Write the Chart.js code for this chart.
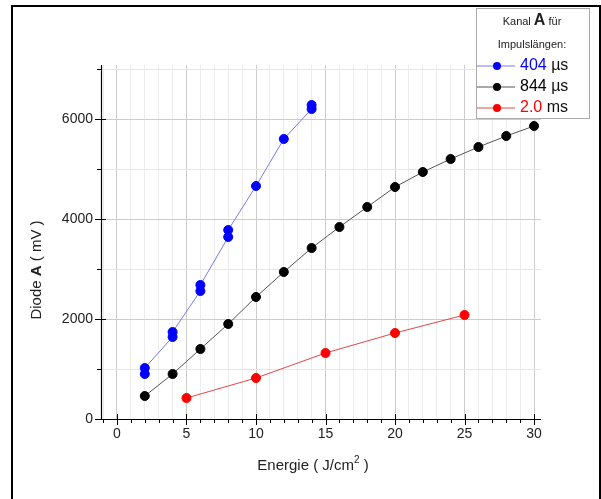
<!DOCTYPE html>
<html><head><meta charset="utf-8">
<script src="https://cdn.jsdelivr.net/npm/chart.js@4"></script>
<style>html,body{margin:0;padding:0;background:#fff;}#wrap{width:601px;height:499px;position:relative;}</style>
</head><body><div id="wrap"><canvas id="c" width="601" height="499"></canvas></div>
<script>
// ---- data ----
const seriesLabels = ["404 µs", "844 µs", "2.0 ms"];
const energy404 = [2, 2, 4, 4, 6, 6, 8, 8, 10, 12, 14, 14];
const diode404  = [900, 1020, 1640, 1740, 2560, 2680, 3640, 3780, 4660, 5600, 6200, 6280];
const energy844 = [2, 4, 6, 8, 10, 12, 14, 16, 18, 20, 22, 24, 26, 28, 30];
const diode844  = [460, 900, 1400, 1900, 2440, 2940, 3420, 3840, 4240, 4640, 4940, 5200, 5440, 5660, 5860];
const energy2ms = [5, 10, 15, 20, 25];
const diode2ms  = [420, 820, 1320, 1720, 2080];
const xTickValues = [-1,0,1,2,3,4,5,6,7,8,9,10,11,12,13,14,15,16,17,18,19,20,21,22,23,24,25,26,27,28,29,30];
const yTickValues = [0,1000,2000,3000,4000,5000,6000,7000];
const xLabelEvery = 5;
const yLabelEvery = 2000;

const FONT = "'Liberation Sans', Arial, sans-serif";
const pts = (xs, ys) => xs.map((x, i) => ({x: x, y: ys[i]}));

const decor = {
  id: 'decor',
  beforeDraw(chart) {
    const ctx = chart.ctx;
    ctx.save();
    ctx.fillStyle = '#fff';
    ctx.fillRect(0, 0, chart.width, chart.height);
    ctx.restore();
  },
  afterDraw(chart) {
    const ctx = chart.ctx;
    const xs = chart.scales.x, ys = chart.scales.y;
    const ca = chart.chartArea;
    ctx.save();
    // axis lines
    ctx.strokeStyle = '#000'; ctx.lineWidth = 1.2;
    ctx.beginPath();
    ctx.moveTo(ca.left + 0.5, ca.top); ctx.lineTo(ca.left + 0.5, ca.bottom + 0.5);
    ctx.lineTo(ca.right, ca.bottom + 0.5);
    ctx.stroke();
    // tick marks
    ctx.lineWidth = 1;
    xs.ticks.forEach(t => {
      const px = Math.round(xs.getPixelForValue(t.value)) + 0.5;
      const major = t.value % xLabelEvery === 0;
      ctx.beginPath();
      ctx.moveTo(px, ca.bottom + (major ? -5 : 0));
      ctx.lineTo(px, ca.bottom + (major ? 6 : 4));
      ctx.stroke();
    });
    ys.ticks.forEach(t => {
      const py = Math.round(ys.getPixelForValue(t.value)) + 0.5;
      const major = t.value % yLabelEvery === 0;
      ctx.beginPath();
      ctx.moveTo(ca.left + (major ? 5 : 0), py);
      ctx.lineTo(ca.left - (major ? 6 : 4), py);
      ctx.stroke();
    });
    // Y axis title
    ctx.fillStyle = '#222';
    ctx.textBaseline = 'middle';
    const yParts = [["Diode ", "15px " + FONT], ["A", "bold 15px " + FONT], [" ( mV )", "15px " + FONT]];
    let tw = 0;
    yParts.forEach(p => { ctx.font = p[1]; tw += ctx.measureText(p[0]).width; });
    ctx.translate(37, (ca.top + ca.bottom) / 2 + 28);
    ctx.rotate(-Math.PI / 2);
    let cx = -tw / 2;
    ctx.textAlign = 'left';
    yParts.forEach(p => { ctx.font = p[1]; ctx.fillText(p[0], cx, 0); cx += ctx.measureText(p[0]).width; });
    ctx.setTransform(1, 0, 0, 1, 0, 0);
    // X axis title
    const xParts = [["Energie ( J/cm", "15px " + FONT, 0], ["2", "10px " + FONT, -6], [" )", "15px " + FONT, 0]];
    tw = 0;
    xParts.forEach(p => { ctx.font = p[1]; tw += ctx.measureText(p[0]).width; });
    cx = 313 - tw / 2;
    xParts.forEach(p => { ctx.font = p[1]; ctx.fillText(p[0], cx, 466 + p[2]); cx += ctx.measureText(p[0]).width; });
    // frame
    ctx.strokeStyle = '#000'; ctx.lineWidth = 2;
    ctx.strokeRect(12, 6, 588, 520);
    // legend box
    ctx.fillStyle = '#fff';
    ctx.fillRect(476, 8, 113, 110);
    ctx.strokeStyle = '#aaa'; ctx.lineWidth = 1;
    ctx.strokeRect(476.5, 8.5, 113, 110);
    ctx.fillStyle = '#222';
    ctx.textBaseline = 'alphabetic';
    const tParts = [["Kanal ", "11px " + FONT], ["A", "bold 16px " + FONT], [" für", "11px " + FONT]];
    tw = 0;
    tParts.forEach(p => { ctx.font = p[1]; tw += ctx.measureText(p[0]).width; });
    cx = 532 - tw / 2;
    tParts.forEach(p => { ctx.font = p[1]; ctx.fillText(p[0], cx, 25); cx += ctx.measureText(p[0]).width; });
    ctx.font = "11px " + FONT; ctx.textAlign = 'center';
    ctx.fillText("Impulslängen:", 532, 48);
    ctx.textAlign = 'left'; ctx.textBaseline = 'middle';
    chart.data.datasets.forEach((ds, i) => {
      const y = 66 + i * 21;
      ctx.strokeStyle = ds.borderColor; ctx.lineWidth = 1;
      ctx.beginPath(); ctx.moveTo(477, y); ctx.lineTo(515, y); ctx.stroke();
      ctx.fillStyle = ds.pointBackgroundColor;
      ctx.beginPath(); ctx.arc(497, y, 4, 0, Math.PI * 2); ctx.fill();
      const parts = ds.label.split(' ');
      ctx.font = "16px " + FONT;
      ctx.fillStyle = ds.pointBackgroundColor;
      ctx.fillText(parts[0], 520, y);
      const w = ctx.measureText(parts[0] + ' ').width;
      ctx.fillStyle = '#111';
      ctx.fillText(parts[1], 520 + w, y);
    });
    ctx.restore();
  }
};

new Chart(document.getElementById('c'), {
  type: 'scatter',
  data: {
    datasets: [
      {label: seriesLabels[0], data: pts(energy404, diode404), showLine: true,
       borderColor: '#7b7be6', borderWidth: 1, pointBackgroundColor: '#0000ff', pointBorderColor: '#0000ff',
       pointRadius: 4.5, pointHoverRadius: 4.5},
      {label: seriesLabels[1], data: pts(energy844, diode844), showLine: true,
       borderColor: '#555555', borderWidth: 1, pointBackgroundColor: '#000000', pointBorderColor: '#000000',
       pointRadius: 4.5, pointHoverRadius: 4.5},
      {label: seriesLabels[2], data: pts(energy2ms, diode2ms), showLine: true,
       borderColor: '#e04848', borderWidth: 1, pointBackgroundColor: '#ff0000', pointBorderColor: '#ff0000',
       pointRadius: 4.5, pointHoverRadius: 4.5}
    ]
  },
  options: {
    responsive: false,
    animation: false,
    layout: {padding: {top: 65, right: 60, left: 0, bottom: 0}},
    plugins: {legend: {display: false}, tooltip: {enabled: false}},
    scales: {
      x: {
        type: 'linear', min: -1.15, max: 30.5,
        afterBuildTicks: s => { s.ticks = xTickValues.map(v => ({value: v})); },
        afterFit: s => { s.height = 80; },
        border: {display: false},
        grid: {drawTicks: false,
               color: c => (c.tick && c.tick.value % xLabelEvery === 0) ? '#cccccc' : '#ececec'},
        ticks: {autoSkip: false, maxRotation: 0, padding: 7, color: '#222',
                font: {family: FONT, size: 14},
                callback: v => (v % xLabelEvery === 0 ? String(v) : '')}
      },
      y: {
        type: 'linear', min: 0, max: 7080,
        afterBuildTicks: s => { s.ticks = yTickValues.map(v => ({value: v})); },
        afterFit: s => { s.width = 101; },
        border: {display: false},
        grid: {drawTicks: false,
               color: c => (c.tick && c.tick.value % yLabelEvery === 0) ? '#cccccc' : '#e6e6e6'},
        ticks: {autoSkip: false, padding: 8, color: '#222',
                font: {family: FONT, size: 14},
                callback: v => (v % yLabelEvery === 0 ? String(v) : '')}
      }
    }
  },
  plugins: [decor]
});
</script></body></html>
